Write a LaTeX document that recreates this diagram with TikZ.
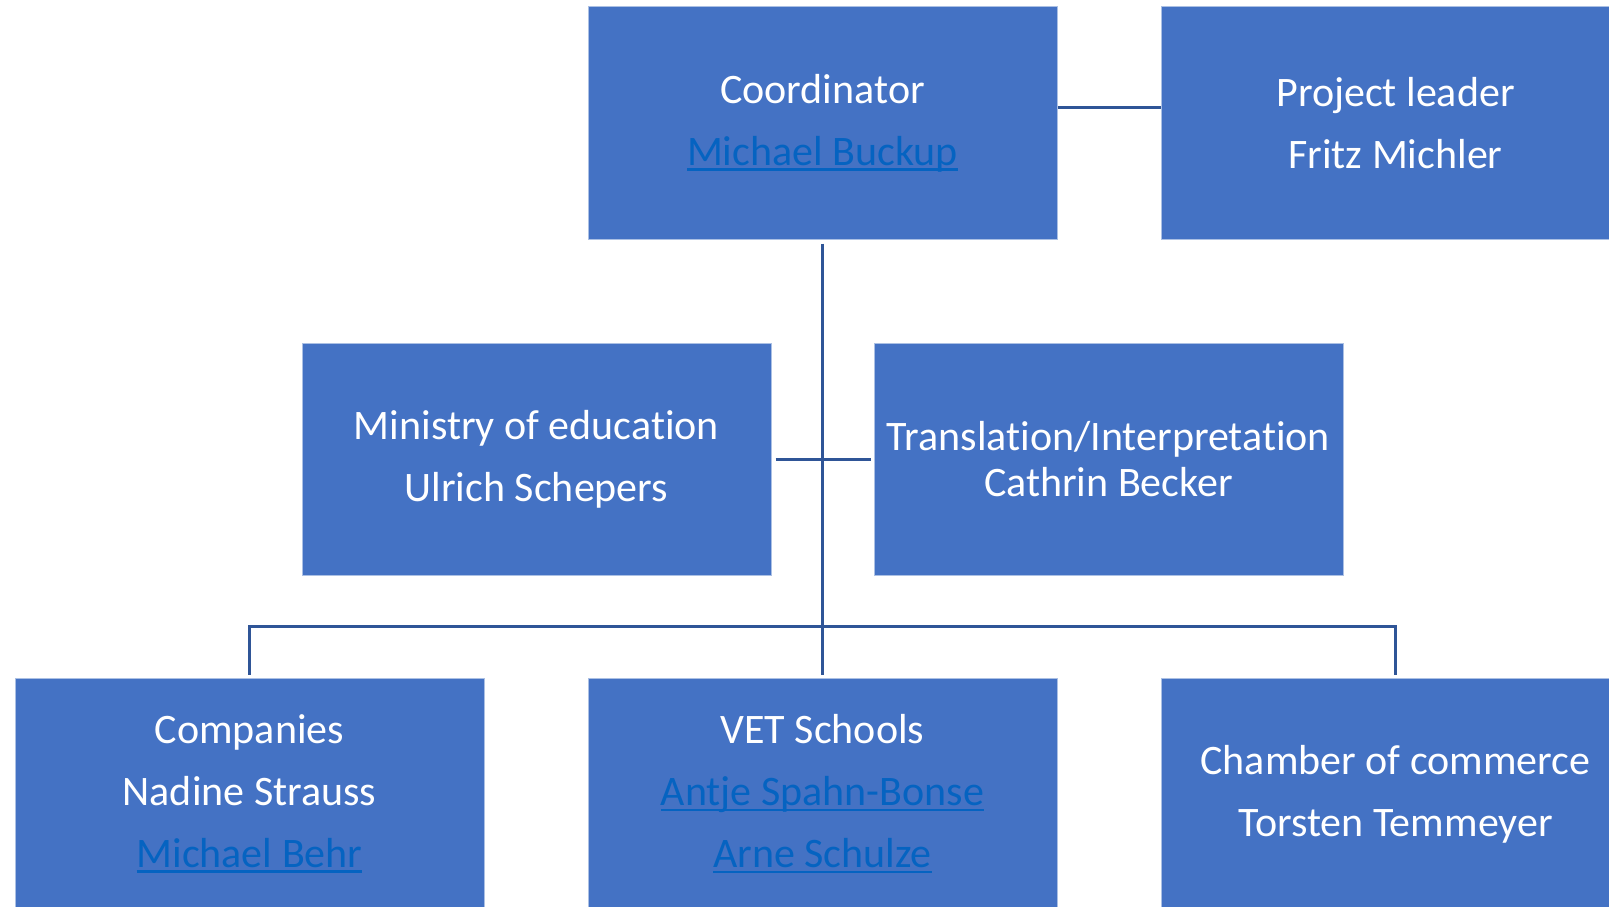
\documentclass[tikz,border=0pt]{standalone}
\usepackage{fontspec}
\setmainfont[Ligatures={NoCommon}]{Carlito}
\definecolor{boxblue}{HTML}{4472C4}
\definecolor{linecol}{HTML}{2F5597}
\definecolor{linkblue}{HTML}{0563C1}
\newcommand\lnk[1]{{\color{linkblue}\setbox0\hbox{#1}\rlap{\rule[-0.13em]{\wd0}{0.065em}}\box0}}
\begin{document}
\begin{tikzpicture}[x=1pt,y=-1pt,
  box/.style={fill=boxblue, draw=white!55!boxblue, line width=1pt,
    minimum width=469pt, minimum height=232pt, inner sep=0pt,
    text=white, align=center, font=\fontsize{42}{62}\selectfont},
  conn/.style={draw=linecol, line width=3pt}]
\useasboundingbox (0,0) rectangle (1609,907);
\node[box] (coord) at (822.5,123) {Coordinator\\\lnk{Michael Buckup}};
\node[box] (pl) at (1395.5,123) {Project leader\\Fritz Michler};
\node[box] (ministry) at (536.5,459) {Ministry of education\\Ulrich Schepers};
\node[box, font=\fontsize{42}{46}\selectfont] (transl) at (1108.5,459) {Translation/Interpretation\\Cathrin Becker};
\node[box] (comp) at (249.5,794) {Companies\\Nadine Strauss\\\lnk{Michael Behr}};
\node[box] (vet) at (822.5,794) {VET Schools\\\lnk{Antje Spahn-Bonse}\\\lnk{Arne Schulze}};
\node[box] (chamber) at (1395.5,794) {Chamber of commerce\\Torsten Temmeyer};
\coordinate (bar) at (822.5,626);
\draw[conn] ([yshift=16pt]coord.east) -- ([yshift=16pt]pl.west);
\draw[conn, shorten <=4pt, shorten >=3pt] (coord.south) -- (vet.north);
\draw[conn, shorten <=4pt, shorten >=3pt] (ministry.east) -- (transl.west);
\draw[conn, shorten <=3pt, shorten >=3pt] (comp.north) |- (bar) -| (chamber.north);
\end{tikzpicture}
\end{document}
